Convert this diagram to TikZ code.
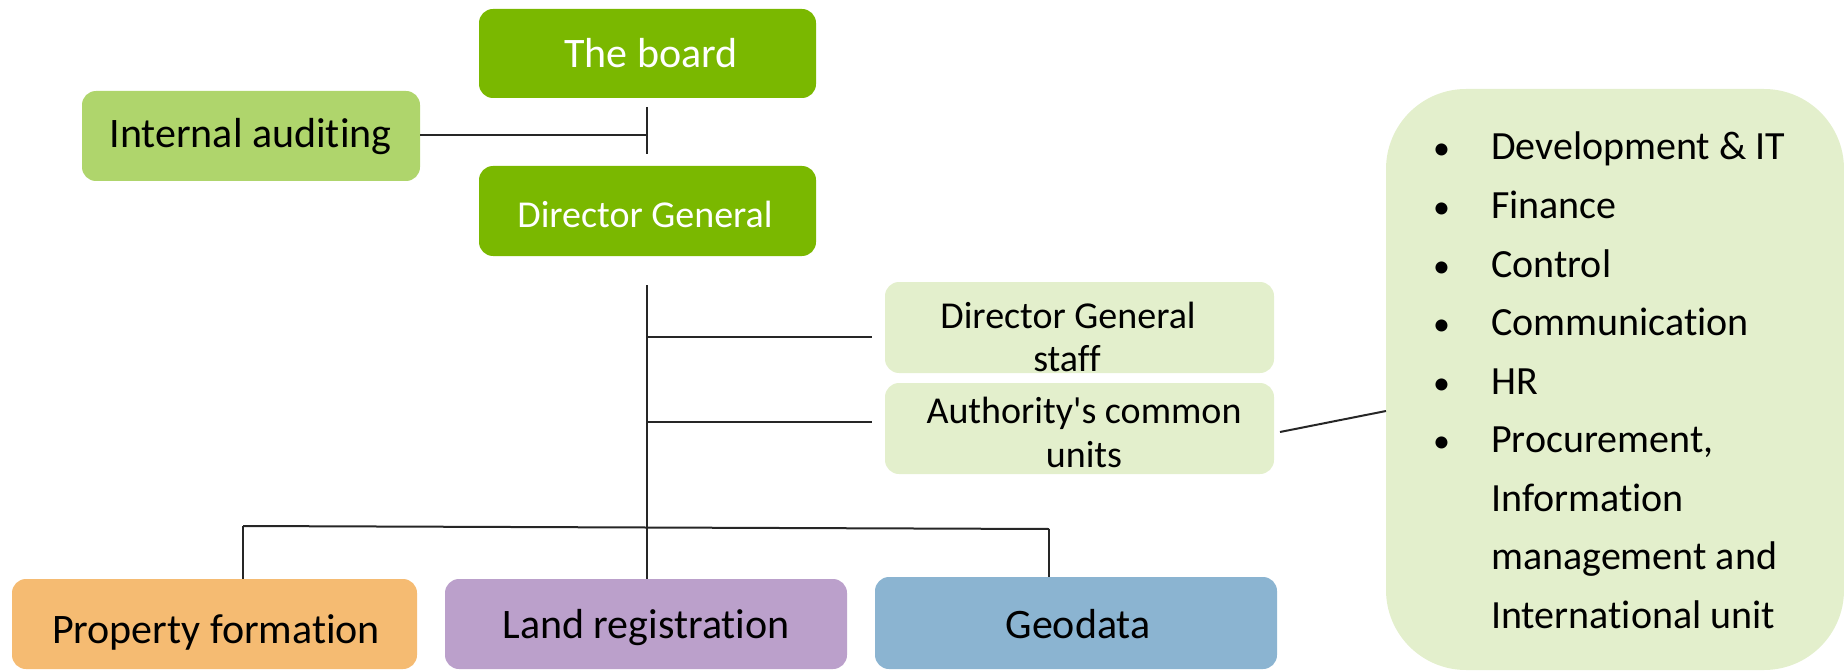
\documentclass[tikz,border=0pt]{standalone}
\usepackage{fontspec}
\setmainfont{Carlito}[Ligatures={TeXOff,CommonOff}]
\definecolor{dkgreen}{RGB}{122,184,0}
\definecolor{midgreen}{RGB}{175,213,108}
\definecolor{ltgreen}{RGB}{227,239,204}
\definecolor{orangebox}{RGB}{245,187,114}
\definecolor{purplebox}{RGB}{187,160,203}
\definecolor{bluebox}{RGB}{139,180,209}
\begin{document}
\begin{tikzpicture}[x=1pt,y=-1pt,
  box/.style={rounded corners=14pt, inner sep=0pt, draw=none},
  bigtxt/.style={inner sep=0pt, anchor=base, font=\fontsize{42}{50}\selectfont},
  midtxt/.style={inner sep=0pt, anchor=base, font=\fontsize{38}{40}\selectfont},
  listtxt/.style={inner sep=0pt, anchor=base west, font=\fontsize{40}{48}\selectfont},
  ln/.style={line width=2pt, black!85}]
\useasboundingbox (0,0) rectangle (1844,671);

% boxes
\node[box, fill=dkgreen, minimum width=337pt, minimum height=89pt] (board) at (647.5,53.5) {};
\node[box, fill=midgreen, minimum width=338pt, minimum height=90pt] (ia) at (251,136) {};
\node[box, fill=dkgreen, minimum width=337pt, minimum height=90pt] (dg) at (647.5,211) {};
\node[box, fill=ltgreen, minimum width=389pt, minimum height=91pt] (dgs) at (1079.5,327.5) {};
\node[box, fill=ltgreen, minimum width=389pt, minimum height=91pt] (acu) at (1079.5,428.5) {};
\node[box, fill=orangebox, minimum width=405pt, minimum height=90pt] (pf) at (214.5,624) {};
\node[box, fill=purplebox, minimum width=402pt, minimum height=90pt] (lr) at (646,624) {};
\node[box, fill=bluebox, minimum width=402pt, minimum height=92pt] (geo) at (1076,623) {};
\node[fill=ltgreen, rounded corners=80pt, inner sep=0pt, minimum width=458pt, minimum height=581pt] (units) at (1615,379.5) {};

% texts
\node[bigtxt, text=white] (boardt) at (651,68) {The board};
\node[bigtxt] (iat) at (250.5,148) {Internal auditing};
\node[midtxt, text=white] (dgt) at (645,227) {Director General};
\node[midtxt] (dgst1) at (1068,328) {Director General};
\node[midtxt] (dgst2) at (1067,371) {staff};
\node[midtxt] (acut1) at (1084,423) {Authority's common};
\node[midtxt] (acut2) at (1084,467) {units};
\node[bigtxt] (pft) at (216,643) {Property formation};
\node[bigtxt] (lrt) at (646,638) {Land registration};
\node[bigtxt] (geot) at (1078,638) {Geodata};

% list in the big box
\foreach \t [count=\i] in {Development \& IT, Finance, Control, Communication, HR, {Procurement,}} {
  \node[listtxt, font=\fontsize{34}{40}\selectfont] (b\i) at (1433,{160+(\i-1)*58.5}) {\textbullet};
  \node[listtxt] (l\i) at (1491,{160+(\i-1)*58.5}) {\t};
}
\foreach \t [count=\i from 7] in {Information, management and, International unit} {
  \node[listtxt] (l\i) at (1491,{160+(\i-1)*58.5}) {\t};
}

% connector coordinates
\coordinate (tickT) at (647,107);
\coordinate (tickB) at (647,154);
\coordinate (tickM) at (647,135);
\coordinate (trunkT) at (647,285);
\coordinate (trunkB) at (647,527);
\coordinate (br1) at (647,337);
\coordinate (br1e) at (872,337);
\coordinate (br2) at (647,422);
\coordinate (br2e) at (872,422);
\coordinate (barL) at (243,526);
\coordinate (barR) at (1049,529);
\coordinate (acuR) at (1280,432);
\coordinate (unitsL) at (1386,411);

\draw[ln] (tickT) -- (tickB);
\draw[ln] (ia.east |- tickM) -- (tickM);
\draw[ln] (trunkT) -- (trunkB);
\draw[ln] (br1) -- (br1e);
\draw[ln] (br2) -- (br2e);
\draw[ln] (barL) -- (barR);
\draw[ln] (barL) -- (pf.north -| barL);
\draw[ln] (trunkB) -- (lr.north -| trunkB);
\draw[ln] (barR) -- (geo.north -| barR);
\draw[ln] (acuR) -- (unitsL);
\end{tikzpicture}
\end{document}
